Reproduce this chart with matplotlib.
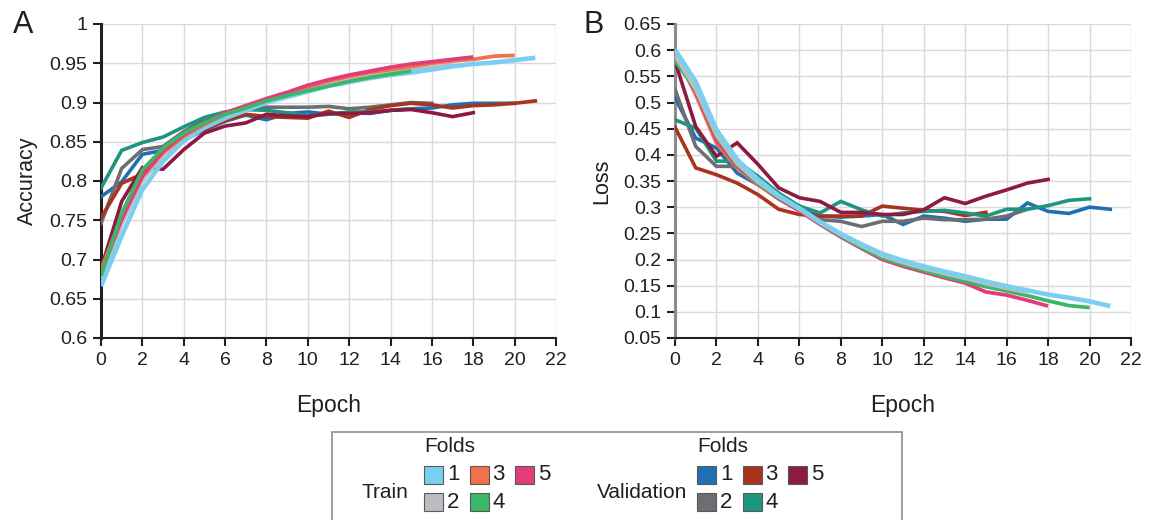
import matplotlib
matplotlib.use("Agg")
import matplotlib.pyplot as plt
from matplotlib.patches import Rectangle

plt.rcParams['font.family'] = ['Liberation Sans', 'DejaVu Sans']

# ---- data -------------------------------------------------------------
acc_train_1 = [0.666, 0.730, 0.789, 0.825, 0.851, 0.868, 0.880, 0.890, 0.900, 0.907, 0.914,
               0.921, 0.926, 0.931, 0.935, 0.938, 0.942, 0.946, 0.949, 0.951, 0.954, 0.957]
acc_train_2 = [0.675, 0.745, 0.800, 0.833, 0.855, 0.870, 0.883, 0.892, 0.901, 0.909, 0.916,
               0.922, 0.928, 0.933, 0.938, 0.942, 0.945, 0.948]
acc_train_3 = [0.687, 0.755, 0.806, 0.836, 0.857, 0.872, 0.885, 0.894, 0.904, 0.912, 0.920,
               0.927, 0.933, 0.938, 0.942, 0.946, 0.950, 0.953, 0.955, 0.959, 0.960]
acc_train_4 = [0.679, 0.759, 0.814, 0.842, 0.861, 0.874, 0.885, 0.893, 0.902, 0.909, 0.915,
               0.921, 0.927, 0.932, 0.936, 0.940]
acc_train_5 = [0.683, 0.751, 0.806, 0.838, 0.859, 0.874, 0.887, 0.896, 0.905, 0.913, 0.922,
               0.929, 0.935, 0.940, 0.945, 0.949, 0.952, 0.955, 0.958]

acc_val_1 = [0.780, 0.799, 0.834, 0.839, 0.852, 0.865, 0.876, 0.884, 0.878, 0.886, 0.888,
             0.885, 0.887, 0.886, 0.890, 0.892, 0.893, 0.897, 0.899, 0.899, 0.899]
acc_val_2 = [0.746, 0.816, 0.840, 0.844, 0.863, 0.878, 0.886, 0.891, 0.894, 0.894, 0.894,
             0.895, 0.892, 0.894, 0.897, 0.900, 0.899]
acc_val_3 = [0.753, 0.797, 0.809, 0.840, 0.855, 0.866, 0.877, 0.885, 0.882, 0.881, 0.880,
             0.889, 0.881, 0.891, 0.896, 0.899, 0.897, 0.893, 0.896, 0.897, 0.899, 0.902]
acc_val_4 = [0.791, 0.839, 0.849, 0.856, 0.869, 0.881, 0.888, 0.891, 0.890, 0.887, 0.883,
             0.885, 0.888, 0.888, 0.890, 0.892]
acc_val_5 = [0.688, 0.774, 0.817, 0.815, 0.840, 0.861, 0.870, 0.874, 0.885, 0.883, 0.882,
             0.886, 0.886, 0.887, 0.890, 0.891, 0.887, 0.882, 0.887]

loss_train_1 = [0.601, 0.540, 0.448, 0.391, 0.353, 0.322, 0.298, 0.272, 0.249, 0.229, 0.211,
                0.198, 0.187, 0.177, 0.168, 0.158, 0.149, 0.141, 0.133, 0.127, 0.120, 0.111]
loss_train_2 = [0.590, 0.525, 0.438, 0.383, 0.348, 0.320, 0.296, 0.270, 0.247, 0.226, 0.207,
                0.194, 0.183, 0.173, 0.164, 0.154, 0.145, 0.137]
loss_train_3 = [0.594, 0.515, 0.422, 0.375, 0.343, 0.316, 0.294, 0.270, 0.248, 0.228, 0.209,
                0.195, 0.184, 0.173, 0.164, 0.156]
loss_train_4 = [0.580, 0.524, 0.435, 0.381, 0.346, 0.318, 0.296, 0.269, 0.245, 0.223, 0.203,
                0.190, 0.179, 0.168, 0.158, 0.148, 0.140, 0.131, 0.121, 0.112, 0.108]
loss_train_5 = [0.588, 0.521, 0.429, 0.378, 0.345, 0.316, 0.293, 0.267, 0.243, 0.221, 0.200,
                0.187, 0.176, 0.165, 0.155, 0.138, 0.132, 0.122, 0.111]

loss_val_1 = [0.509, 0.432, 0.413, 0.365, 0.343, 0.324, 0.302, 0.283, 0.281, 0.283, 0.286,
              0.267, 0.283, 0.279, 0.273, 0.277, 0.277, 0.308, 0.292, 0.288, 0.300, 0.296]
loss_val_2 = [0.525, 0.416, 0.378, 0.378, 0.353, 0.324, 0.298, 0.276, 0.273, 0.263, 0.273,
              0.273, 0.279, 0.276, 0.276, 0.277, 0.283, 0.296]
loss_val_3 = [0.453, 0.375, 0.362, 0.346, 0.324, 0.296, 0.286, 0.283, 0.283, 0.283, 0.302,
              0.298, 0.294, 0.292, 0.284, 0.290]
loss_val_4 = [0.467, 0.451, 0.388, 0.388, 0.359, 0.327, 0.302, 0.289, 0.311, 0.295, 0.283,
              0.289, 0.292, 0.294, 0.289, 0.283, 0.296, 0.296, 0.303, 0.313, 0.316]
loss_val_5 = [0.579, 0.454, 0.397, 0.423, 0.382, 0.337, 0.318, 0.311, 0.290, 0.290, 0.286,
              0.286, 0.295, 0.318, 0.307, 0.321, 0.333, 0.346, 0.353]

fold_labels = ["1", "2", "3", "4", "5"]
epoch_ticks = list(range(0, 23, 2))
acc_ticks = [0.6, 0.65, 0.7, 0.75, 0.8, 0.85, 0.9, 0.95, 1.0]
acc_tick_labels = ["0.6", "0.65", "0.7", "0.75", "0.8", "0.85", "0.9", "0.95", "1"]
loss_ticks = [0.05, 0.1, 0.15, 0.2, 0.25, 0.3, 0.35, 0.4, 0.45, 0.5, 0.55, 0.6, 0.65]
loss_tick_labels = ["0.05", "0.1", "0.15", "0.2", "0.25", "0.3", "0.35", "0.4", "0.45",
                    "0.5", "0.55", "0.6", "0.65"]

# ---- styling ----------------------------------------------------------
train_colors = ["#7ACFF1", "#BCBDC0", "#F2714A", "#3EB66A", "#E23D79"]
val_colors = ["#1F70B2", "#6D6E71", "#A9331F", "#1E9581", "#8D1A40"]
INK = "#231F20"
GRID = "#D9D9D9"

fig = plt.figure(figsize=(11.49, 5.20), dpi=100)
ax_acc = fig.add_axes([101 / 1149, 1 - 338 / 520, 455 / 1149, 314 / 520])
ax_loss = fig.add_axes([675 / 1149, 1 - 338 / 520, 456 / 1149, 314 / 520])

acc_train = [acc_train_1, acc_train_2, acc_train_3, acc_train_4, acc_train_5]
acc_val = [acc_val_1, acc_val_2, acc_val_3, acc_val_4, acc_val_5]
loss_train = [loss_train_1, loss_train_2, loss_train_3, loss_train_4, loss_train_5]
loss_val = [loss_val_1, loss_val_2, loss_val_3, loss_val_4, loss_val_5]


def draw_panel(ax, train, val, train_order):
    for i, series in enumerate(val):
        ax.plot(range(len(series)), series, color=val_colors[i], lw=2.6,
                solid_joinstyle="miter", zorder=3)
    for z, i in enumerate(train_order):
        series = train[i]
        lw = 3.3 if i == 0 else 2.7
        ax.plot(range(len(series)), series, color=train_colors[i], lw=lw,
                solid_joinstyle="round", solid_capstyle="butt", zorder=4 + z)


draw_panel(ax_acc, acc_train, acc_val, [1, 0, 2, 4, 3])
draw_panel(ax_loss, loss_train, loss_val, [2, 4, 3, 1, 0])


def style_axes(ax, yticks, ylabels, ylim, ylabel, left_spine_color):
    ax.set_xlim(0, 22)
    ax.set_ylim(*ylim)
    ax.set_xticks(epoch_ticks)
    ax.set_xticklabels([str(t) for t in epoch_ticks])
    ax.set_yticks(yticks)
    ax.set_yticklabels(ylabels)
    ax.grid(True, color=GRID, lw=1.0, zorder=0)
    ax.set_axisbelow(True)
    for side in ("top", "right"):
        ax.spines[side].set_visible(False)
    ax.spines["left"].set_color(left_spine_color)
    ax.spines["left"].set_linewidth(2.2)
    ax.spines["bottom"].set_color(INK)
    ax.spines["bottom"].set_linewidth(1.5)
    ax.tick_params(axis="both", direction="out", length=6, width=1.5, color=INK,
                   labelsize=14, labelcolor=INK, pad=4)
    ax.set_xlabel("Epoch", fontsize=16.5, color=INK, labelpad=18)
    ax.set_ylabel(ylabel, fontsize=15.5, color=INK, labelpad=8)


style_axes(ax_acc, acc_ticks, acc_tick_labels, (0.6, 1.0), "Accuracy", INK)
style_axes(ax_loss, loss_ticks, loss_tick_labels, (0.05, 0.65), "Loss", "#8C8C8C")

fig.text(13 / 1149, 1 - 25 / 520, "A", fontsize=22, color=INK, va="center", ha="left")
fig.text(583 / 1149, 1 - 25 / 520, "B", fontsize=22, color=INK, va="center", ha="left")

# ---- legend box -------------------------------------------------------
fig.add_artist(Rectangle((332 / 1149, -0.05), 570 / 1149, 0.05 + (520 - 432) / 520,
                         transform=fig.transFigure, fill=False, ec="#8E8E8E", lw=1.2))


def legend_group(title, x_title, x_patch0, colors, order_rows):
    fig.text(x_title / 1149, 1 - 492 / 520, title, fontsize=15, color=INK,
             ha="left", va="center")
    fig.text(x_patch0 / 1149, 1 - 447 / 520, "Folds", fontsize=15, color=INK,
             ha="left", va="center")
    for r, row in enumerate(order_rows):
        yc = 475 if r == 0 else 502
        for c, idx in enumerate(row):
            x0 = x_patch0 + c * 45.5
            fig.add_artist(Rectangle((x0 / 1149, 1 - (yc + 9) / 520), 19 / 1149, 18 / 520,
                                     transform=fig.transFigure, fc=colors[idx],
                                     ec="#58595B", lw=0.8))
            fig.text((x0 + 23) / 1149, 1 - yc / 520, fold_labels[idx], fontsize=16,
                     color=INK, ha="left", va="center")


legend_group("Train", 362, 424, train_colors, [[0, 2, 4], [1, 3]])
legend_group("Validation", 597, 697, val_colors, [[0, 2, 4], [1, 3]])

fig.savefig("out.png", dpi=100)
